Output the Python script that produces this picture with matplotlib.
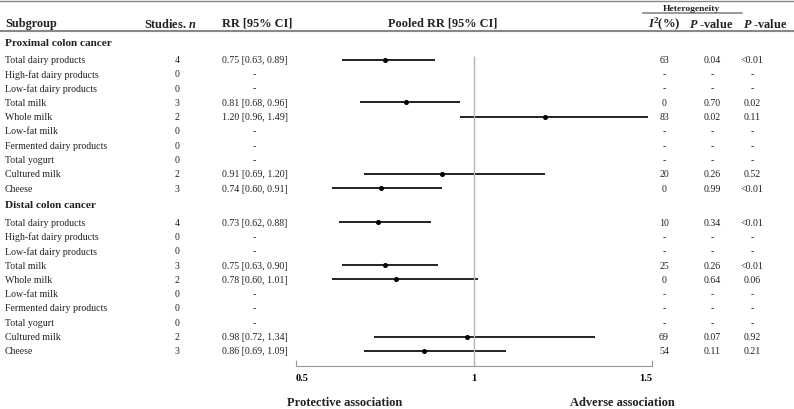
import numpy as np
import matplotlib
matplotlib.use('Agg')
import matplotlib.pyplot as plt

plt.rcParams['font.family'] = ['Liberation Serif', 'DejaVu Serif']
plt.rcParams['mathtext.fontset'] = 'custom'
plt.rcParams['mathtext.rm'] = 'Liberation Serif'
plt.rcParams['mathtext.it'] = 'Liberation Serif:italic'
plt.rcParams['mathtext.bf'] = 'Liberation Serif:bold'
plt.rcParams['mathtext.bfit'] = 'Liberation Serif:bold:italic'

# Data
sections = ['Proximal colon cancer', 'Distal colon cancer']
subgroups = ['Total dairy products', 'High-fat dairy products', 'Low-fat dairy products',
             'Total milk', 'Whole milk', 'Low-fat milk', 'Fermented dairy products',
             'Total yogurt', 'Cultured milk', 'Cheese']

n_prox = [4, 0, 0, 3, 2, 0, 0, 0, 2, 3]
rr_prox = [0.75, np.nan, np.nan, 0.81, 1.20, np.nan, np.nan, np.nan, 0.91, 0.74]
lo_prox = [0.63, np.nan, np.nan, 0.68, 0.96, np.nan, np.nan, np.nan, 0.69, 0.60]
hi_prox = [0.89, np.nan, np.nan, 0.96, 1.49, np.nan, np.nan, np.nan, 1.20, 0.91]
i2_prox = ['63', '-', '-', '0', '83', '-', '-', '-', '20', '0']
phet_prox = ['0.04', '-', '-', '0.70', '0.02', '-', '-', '-', '0.26', '0.99']
p_prox = ['<0.01', '-', '-', '0.02', '0.11', '-', '-', '-', '0.52', '<0.01']

n_dist = [4, 0, 0, 3, 2, 0, 0, 0, 2, 3]
rr_dist = [0.73, np.nan, np.nan, 0.75, 0.78, np.nan, np.nan, np.nan, 0.98, 0.86]
lo_dist = [0.62, np.nan, np.nan, 0.63, 0.60, np.nan, np.nan, np.nan, 0.72, 0.69]
hi_dist = [0.88, np.nan, np.nan, 0.90, 1.01, np.nan, np.nan, np.nan, 1.34, 1.09]
i2_dist = ['10', '-', '-', '25', '0', '-', '-', '-', '69', '54']
phet_dist = ['0.34', '-', '-', '0.26', '0.64', '-', '-', '-', '0.07', '0.11']
p_dist = ['<0.01', '-', '-', '<0.01', '0.06', '-', '-', '-', '0.92', '0.21']

xticks = [0.5, 1, 1.5]
xtick_labels = ['0.5', '1', '1.5']

W, H = 794, 410
fig = plt.figure(figsize=(W / 100, H / 100), dpi=100)

# table layer in pixel coordinates
tab = fig.add_axes([0, 0, 1, 1])
tab.set_xlim(0, W)
tab.set_ylim(H, 0)
tab.axis('off')

# forest layer
x0, x1 = 296, 652
ax = fig.add_axes([x0 / W, 0, (x1 - x0) / W, 1])
ax.set_xlim(0.5, 1.5)
ax.set_ylim(H, 0)
ax.patch.set_alpha(0)
for s in ['top', 'left', 'right']:
    ax.spines[s].set_visible(False)
ax.spines['bottom'].set_position(('data', 367))
ax.spines['bottom'].set_color('#999999')
ax.set_yticks([])
ax.set_xticks(xticks)
ax.set_xticklabels(xtick_labels, fontsize=7.5, fontweight='bold')
for lab, ha in zip(ax.get_xticklabels(), ['left', 'center', 'right']):
    lab.set_horizontalalignment(ha)
ax.tick_params(axis='x', direction='in', length=4, color='#999999', pad=5)

txt = '#222222'
fs = 7.1
hfs = 8.8

# header
tab.axhline(2, color='#888888', lw=1)
tab.axhline(32, color='#888888', lw=1.5)
tab.plot([643, 742], [14, 14], color='#888888', lw=1.2)
tab.text(691, 9, 'Heterogeneity', ha='center', va='center', fontsize=6.8, fontweight='bold', color=txt)
tab.text(5, 24, 'Subgroup', ha='left', va='center', fontsize=hfs, fontweight='bold', color=txt)
tab.text(170, 24, r'Studies. $\mathbfit{n}$', ha='center', va='center', fontsize=hfs, fontweight='bold', color=txt)
tab.text(222, 24, 'RR [95% CI]', ha='left', va='center', fontsize=hfs, fontweight='bold', color=txt)
tab.text(443, 24, 'Pooled RR [95% CI]', ha='center', va='center', fontsize=hfs, fontweight='bold', color=txt)
tab.text(664, 24, r'$\mathbfit{I}^{\mathbf{2}}$(%)', ha='center', va='center', fontsize=9.2, fontweight='bold', color=txt)
tab.text(711, 24, r'$\mathbfit{P}$ -value', ha='center', va='center', fontsize=hfs, fontweight='bold', color=txt)
tab.text(765, 24, r'$\mathbfit{P}$ -value', ha='center', va='center', fontsize=hfs, fontweight='bold', color=txt)

blocks = [
    (n_prox, rr_prox, lo_prox, hi_prox, i2_prox, phet_prox, p_prox),
    (n_dist, rr_dist, lo_dist, hi_dist, i2_dist, phet_dist, p_dist),
]

step = 14.3
y = 43
for name, (n, rr, lo, hi, i2, ph, pv) in zip(sections, blocks):
    tab.text(5, y, name, ha='left', va='center', fontsize=8.1, fontweight='bold', color=txt)
    y += 17.5
    ys = y + step * np.arange(len(subgroups))
    for k, sg in enumerate(subgroups):
        yy = ys[k]
        tab.text(5, yy, sg, ha='left', va='center', fontsize=fs, color=txt)
        tab.text(177, yy, str(n[k]), ha='center', va='center', fontsize=fs, color=txt)
        if np.isnan(rr[k]):
            tab.text(254, yy, '-', ha='center', va='center', fontsize=fs, color=txt)
        else:
            tab.text(222, yy, f'{rr[k]:.2f} [{lo[k]:.2f}, {hi[k]:.2f}]',
                     ha='left', va='center', fontsize=fs, color=txt)
        tab.text(664, yy, i2[k], ha='center', va='center', fontsize=fs, color=txt)
        tab.text(712, yy, ph[k], ha='center', va='center', fontsize=fs, color=txt)
        tab.text(752, yy, pv[k], ha='center', va='center', fontsize=fs, color=txt)
    ax.hlines(ys, lo, hi, color='#111111', lw=1.3)
    ax.plot(rr, ys, 'o', ms=2.6, color='black')
    y = ys[-1] + 16.5

# reference line at RR = 1
ax.vlines(1, 57, 367, color='#b5b5b5', lw=1)

tab.text(345, 403, 'Protective association', ha='center', va='center', fontsize=9, fontweight='bold', color=txt)
tab.text(622, 403, 'Adverse association', ha='center', va='center', fontsize=9, fontweight='bold', color=txt)

plt.savefig('out.png', dpi=100)
